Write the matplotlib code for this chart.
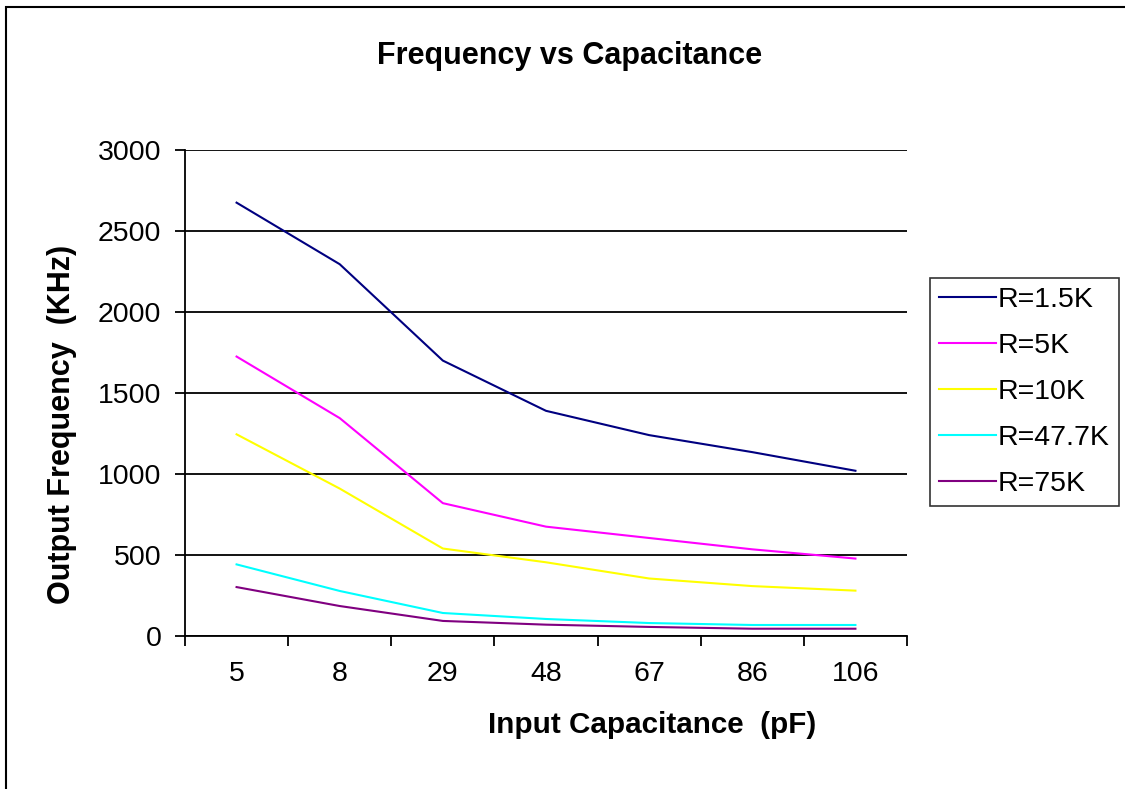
import numpy as np
import matplotlib.pyplot as plt
from matplotlib.patches import Rectangle

# data
capacitance = ['5', '8', '29', '48', '67', '86', '106']
r_labels = ['R=1.5K', 'R=5K', 'R=10K', 'R=47.7K', 'R=75K']
f_1k5 = [2675, 2295, 1700, 1390, 1240, 1135, 1020]
f_5k = [1725, 1345, 820, 675, 605, 535, 478]
f_10k = [1245, 910, 540, 455, 355, 308, 280]
f_47k7 = [442, 278, 142, 105, 80, 68, 68]
f_75k = [302, 185, 93, 70, 56, 45, 45]
colors = ['#000080', '#FF00FF', '#FFFF00', '#00FFFF', '#800080']

plt.rcParams['font.family'] = ['Liberation Sans', 'DejaVu Sans']

fig = plt.figure(figsize=(11.25, 7.89), dpi=100)
ax = fig.add_axes([185/1125, 1-636/789, 722/1125, 486/789])

x = np.arange(len(capacitance))
for vals, lab, c in zip([f_1k5, f_5k, f_10k, f_47k7, f_75k], r_labels, colors):
    ax.plot(x, vals, color=c, lw=1.5, label=lab)

ax.set_xlim(-0.5, len(capacitance) - 0.5)
ax.set_ylim(0, 3000)
ax.set_yticks(range(0, 3001, 500))
ax.yaxis.grid(True, color='black', lw=1.3)
ax.set_axisbelow(True)
ax.set_xticks(x)
ax.set_xticklabels(capacitance)
ax.set_xticks(np.arange(-0.5, len(capacitance)), minor=True)
ax.tick_params(axis='x', which='major', length=0, pad=18, labelsize=20.5)
ax.tick_params(axis='x', which='minor', length=7, width=1.3, direction='out')
ax.tick_params(axis='y', length=7, width=1.3, labelsize=20.5, pad=10)
for s in ['top', 'right']:
    ax.spines[s].set_visible(False)
for s in ['left', 'bottom']:
    ax.spines[s].set_linewidth(1.3)

ax.set_xlabel('Input Capacitance  (pF)', fontsize=21.3, fontweight='bold', va='center')
ax.xaxis.set_label_coords(0.647, -0.183)
ax.set_ylabel('Output Frequency  (KHz)', fontsize=22, fontweight='bold', va='center')
ax.yaxis.set_label_coords(-0.170, 0.435)
fig.text(0.506, 1-56/789, 'Frequency vs Capacitance', ha='center', va='center',
         fontsize=22, fontweight='bold')

leg = fig.legend(loc='center left', bbox_to_anchor=(930/1125, 1-392/789),
                 frameon=True, fancybox=False, fontsize=20.5, handlelength=2.0,
                 handletextpad=0.05, labelspacing=0.7, borderpad=0.33, borderaxespad=0)
leg.get_frame().set_edgecolor('black')
leg.get_frame().set_linewidth(1.2)

fig.patches.append(Rectangle((6/1125, -0.1), 1.2, 1 - 7/789 + 0.1, transform=fig.transFigure,
                             fill=False, edgecolor='black', lw=1.5))

fig.savefig('out.png', dpi=100)
